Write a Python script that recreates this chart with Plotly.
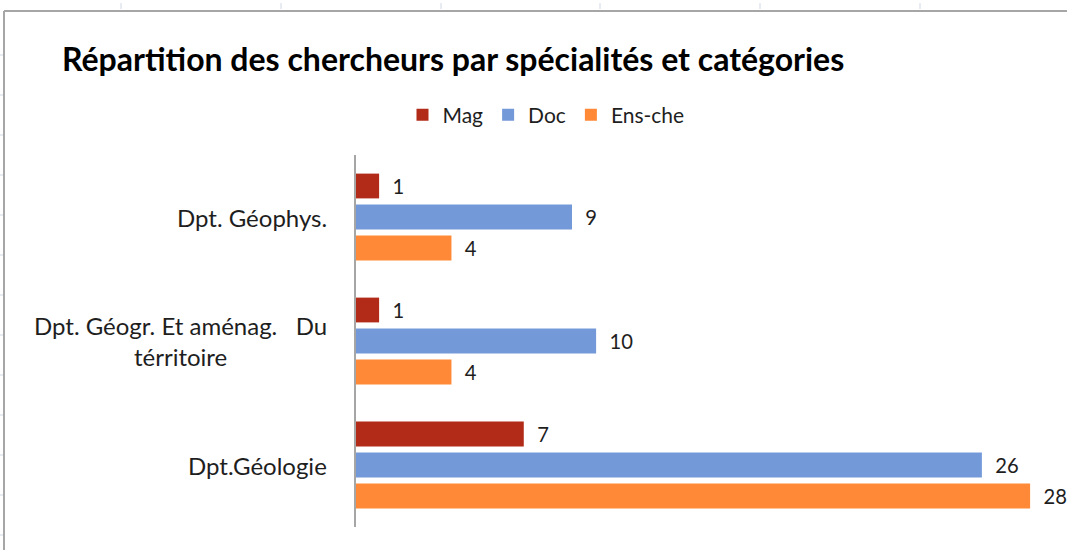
import plotly.graph_objects as go

categories = ["Dpt. Géophys.", "Dpt. Géogr. Et aménag.   Du<br>térritoire", "Dpt.Géologie"]
series_names = ["Mag", "Doc", "Ens-che"]
mag = [1, 1, 7]
doc = [9, 10, 26]
ens = [4, 4, 28]
colors = ["#B22B18", "#7499D8", "#FF8936"]
title_text = "Répartition des chercheurs par spécialités et catégories"

FONT = "Lato"
TXT = "#1e1e1e"

fig = go.Figure()
for name, vals, col in zip(series_names, [mag, doc, ens], colors):
    fig.add_trace(go.Bar(
        y=categories, x=vals, name=name, orientation="h",
        marker=dict(color=col, line=dict(width=0)),
        texttemplate="&nbsp;&nbsp;%{x}", textposition="outside",
        textfont=dict(family=FONT, size=22, color=TXT),
        cliponaxis=False,
    ))

# category labels (centered multi-line like Excel)
for c in categories:
    fig.add_annotation(
        x=0, xref="paper", y=c, yref="y", text=c, showarrow=False,
        xanchor="right", xshift=-26, align="center",
        font=dict(family=FONT, size=24, color=TXT),
    )

L, W = 355, 712
def px(x):
    return (x - L) / W

T, H = 155, 372
def py(y):
    return 1 - (y - T) / H

shapes = []
# chart frame (left & top border)
shapes.append(dict(type="line", xref="paper", yref="paper", x0=px(4), x1=px(4), y0=py(11), y1=py(560),
                   line=dict(color="#a6a6a6", width=2)))
shapes.append(dict(type="line", xref="paper", yref="paper", x0=px(4), x1=px(1080), y0=py(11), y1=py(11),
                   line=dict(color="#a6a6a6", width=2)))
# spreadsheet grid ticks outside the frame
for gx in [121, 281, 441, 600, 760, 920]:
    shapes.append(dict(type="line", xref="paper", yref="paper", x0=px(gx), x1=px(gx), y0=py(3), y1=py(9),
                       line=dict(color="#d0d7e5", width=1)))
for gy in [55, 95, 135, 175, 215, 255, 295, 335, 375, 415, 455, 495, 535]:
    shapes.append(dict(type="line", xref="paper", yref="paper", x0=px(0), x1=px(3), y0=py(gy), y1=py(gy),
                       line=dict(color="#d0d7e5", width=1)))
# vertical category axis line
shapes.append(dict(type="line", xref="paper", yref="paper", x0=0, x1=0, y0=0, y1=1,
                   line=dict(color="#a6a6a6", width=2)))

fig.update_layout(
    width=1067, height=550,
    margin=dict(l=L, r=0, t=T, b=550 - T - H, pad=0),
    paper_bgcolor="white", plot_bgcolor="white",
    barmode="group", bargap=0.25, bargroupgap=0.2,
    title=dict(text="<b>" + title_text + "</b>", x=62 / 1067, xanchor="left",
               y=1 - 60 / 550, yanchor="middle",
               font=dict(family=FONT, size=32, color="#000000")),
    legend=dict(orientation="h", x=546 / 1067, xref="container", xanchor="center",
                y=1 - 115 / 550, yref="container", yanchor="middle",
                font=dict(family=FONT, size=21, color=TXT), itemwidth=30,
                traceorder="normal"),
    xaxis=dict(range=[0, 29.53], showgrid=False, zeroline=False, showticklabels=False,
               showline=False, ticks=""),
    yaxis=dict(autorange="reversed", showticklabels=False, showgrid=False, zeroline=False,
               showline=False, ticks=""),
    shapes=shapes,
    showlegend=True,
)

fig.write_html("out.html", config={"displayModeBar": False},
               post_script="document.body.style.margin='0';document.body.style.overflow='hidden';")
